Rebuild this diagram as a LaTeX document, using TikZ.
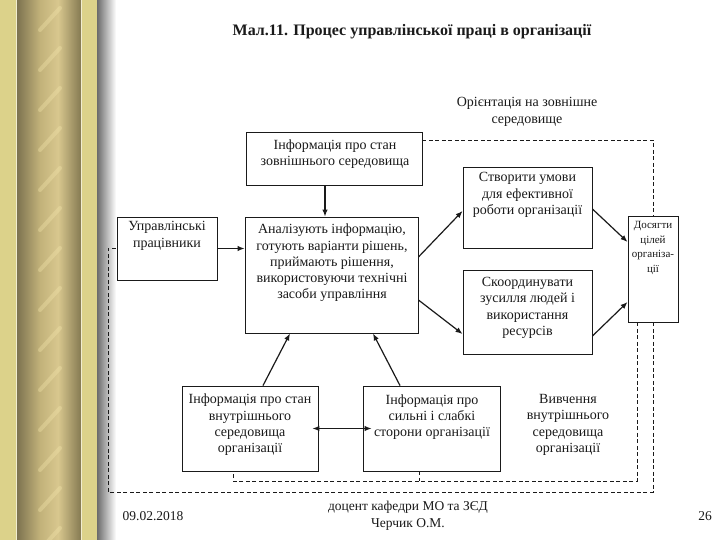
\documentclass[tikz,border=0pt]{standalone}
\usepackage{fontspec}
\setmainfont{Liberation Serif}
\usetikzlibrary{arrows.meta}
\definecolor{goldA}{HTML}{DCD28A}
\definecolor{goldB}{HTML}{7D7350}
\definecolor{goldC}{HTML}{C2B27A}
\definecolor{goldD}{HTML}{D8C78E}
\definecolor{goldE}{HTML}{857A52}
\definecolor{goldF}{HTML}{F2E4AA}
\definecolor{ink}{HTML}{1A1A1A}
\tikzset{
  box/.style={draw=ink, line width=0.9pt, rectangle, inner sep=0pt},
  txt/.style={text=ink, align=center, inner sep=0pt, font=\fontsize{14}{16.3}\selectfont},
  arr/.style={draw=ink, line width=1.2pt, -{Latex[length=7pt,width=5.5pt]}},
  darr/.style={draw=ink, line width=1.2pt, {Latex[length=7pt,width=5.5pt]}-{Latex[length=7pt,width=5.5pt]}},
  dl/.style={draw=ink, line width=0.8pt, dash pattern=on 4pt off 2.5pt}
}
\begin{document}
\begin{tikzpicture}[x=1pt,y=-1pt]
\useasboundingbox (0,0) rectangle (720,540);
\fill[white] (0,0) rectangle (720,540);
% decorative pillar
\fill[goldA] (0,0) rectangle (17,540);
\draw[goldA!40!white, line width=0.8pt] (16.5,0) -- (16.5,540);
\shade[left color=goldB, right color=goldC] (17,0) rectangle (40,540);
\shade[left color=goldC, right color=goldD] (40,0) rectangle (58,540);
\shade[left color=goldD, right color=goldE] (58,0) rectangle (81,540);
\begin{scope}
\clip (32,0) rectangle (68,540);
\foreach \k in {0,...,14}
  \draw[goldF, opacity=0.38, line width=4pt, line cap=round] (40,40*\k+30) -- (60,40*\k+8);
\end{scope}
\draw[goldA!40!white, line width=0.8pt] (81.5,0) -- (81.5,540);
\fill[goldA] (82,0) rectangle (97,540);
\shade[left color=black!58, right color=white] (97,0) rectangle (116,540);

% title
\node[text=ink, inner sep=0pt, font=\fontsize{16}{19}\selectfont\bfseries] (title) at (412,32) {Мал.11. Процес управлінської праці в організації};

% orientation text
\node[txt] (orient) at (527,112) {Орієнтація на зовнішне\\середовище};

% boxes
\node[box, minimum width=176pt, minimum height=53pt] (ext) at (334,158.5) {};
\node[txt] (exttxt) at (335,154) {Інформація про стан\\зовнішнього середовища};

\node[box, minimum width=100pt, minimum height=63pt] (mgr) at (167,248.5) {};
\node[txt] (mgrtxt) at (167,236) {Управлінські\\працівники};

\node[box, minimum width=173pt, minimum height=116pt] (anal) at (331.5,275) {};
\node[txt] (analtxt) at (332,263) {Аналізують інформацію,\\готують варіанти рішень,\\приймають рішення,\\використовуючи технічні\\засоби управління};

\node[box, minimum width=129pt, minimum height=81pt] (cond) at (527.5,207.5) {};
\node[txt] (condtxt) at (527.5,195) {Створити умови\\для ефективної\\роботи організації};

\node[box, minimum width=129pt, minimum height=84pt] (coord) at (527.5,312) {};
\node[txt] (coordtxt) at (527.5,308) {Скоординувати\\зусилля людей і\\використання\\ресурсів};

\node[box, minimum width=50pt, minimum height=106pt] (goal) at (653,269) {};
\node[txt, font=\fontsize{11}{14.5}\selectfont] (goaltxt) at (653,248) {Досягти\\цілей\\організа-\\ції};

\node[box, minimum width=136pt, minimum height=85pt] (inner) at (250,428.5) {};
\node[txt] (innertxt) at (250,425) {Інформація про стан\\внутрішнього\\середовища\\організації};

\node[box, minimum width=137pt, minimum height=85pt] (strong) at (431.5,428.5) {};
\node[txt] (strongtxt) at (432,417) {Інформація про\\сильні і слабкі\\сторони організації};

\node[txt] (study) at (568,425) {Вивчення\\внутрішнього\\середовища\\організації};

% footer
\node[txt, font=\fontsize{13.5}{16}\selectfont] (date) at (153,516) {09.02.2018};
\node[txt, font=\fontsize{13.5}{17}\selectfont] (author) at (408,516) {доцент кафедри МО та ЗЄД\\Черчик О.М.};
\node[txt, font=\fontsize{13.5}{16}\selectfont] (page) at (705,516) {26};

% arrows
\draw[arr] ([xshift=-9pt]ext.south) -- ([xshift=-9pt]ext.south |- anal.north);
\draw[arr] (mgr.east) -- (mgr.east -| anal.west);
\draw[arr] ([yshift=18pt]anal.east) -- ([yshift=-3.5pt]cond.west);
\draw[arr] ([yshift=-25pt]anal.east) -- ([yshift=-22pt]coord.west);
\draw[arr] ([yshift=-1.5pt]cond.east) -- ([yshift=27pt]goal.west);
\draw[arr] ([yshift=-24pt]coord.east) -- ([yshift=-33pt]goal.west);
\draw[arr] ([xshift=13pt]inner.north) -- ([xshift=-41.5pt]anal.south);
\draw[arr] ([xshift=-31.5pt]strong.north) -- ([xshift=41.5pt]anal.south);
\draw[darr] ([xshift=-6pt]inner.east) -- ([xshift=9pt]strong.west);

% dashed feedback lines
\coordinate (ib) at (233,481);
\draw[dl] ([yshift=18.5pt]ext.east) -| (goal.north);
\draw[dl] (goal.south) |- (108,492) |- (mgr.west);
\draw[dl] ([xshift=-16pt]goal.south) |- (ib) -- (ib |- inner.south);
\draw[dl] ([xshift=-12.5pt]strong.south) -- ++(0,10);
\end{tikzpicture}
\end{document}
